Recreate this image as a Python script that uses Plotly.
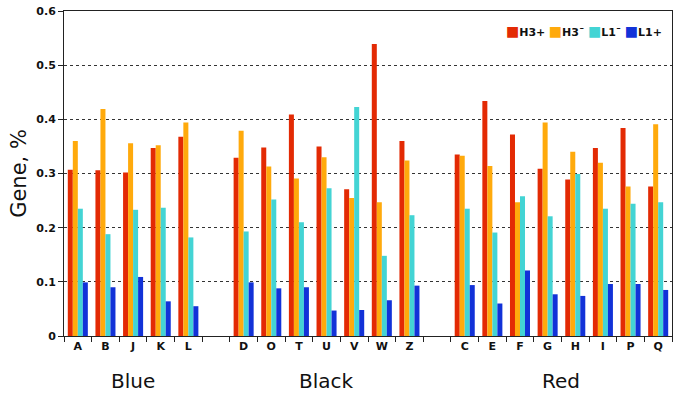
import plotly.graph_objects as go

categories = ["A", "B", "J", "K", "L", " ",
              "D", "O", "T", "U", "V", "W", "Z", "  ",
              "C", "E", "F", "G", "H", "I", "P", "Q"]

h3_plus = [0.307, 0.306, 0.302, 0.347, 0.368, None,
           0.329, 0.348, 0.409, 0.350, 0.271, 0.539, 0.360, None,
           0.335, 0.434, 0.372, 0.309, 0.289, 0.347, 0.384, 0.276]
h3_minus = [0.360, 0.419, 0.356, 0.352, 0.394, None,
            0.379, 0.313, 0.291, 0.330, 0.255, 0.247, 0.324, None,
            0.333, 0.314, 0.247, 0.394, 0.340, 0.320, 0.276, 0.391]
l1_minus = [0.235, 0.188, 0.233, 0.237, 0.182, None,
            0.193, 0.252, 0.210, 0.273, 0.423, 0.148, 0.223, None,
            0.235, 0.191, 0.258, 0.221, 0.299, 0.235, 0.244, 0.247]
l1_plus = [0.099, 0.090, 0.109, 0.064, 0.055, None,
           0.099, 0.088, 0.090, 0.047, 0.048, 0.066, 0.093, None,
           0.094, 0.060, 0.121, 0.077, 0.074, 0.096, 0.096, 0.085]

series_names = ["H3+", "H3¯", "L1¯", "L1+"]
series_colors = ["#E32A04", "#FFAA0C", "#43D4D4", "#1232D8"]
series_values = [h3_plus, h3_minus, l1_minus, l1_plus]

groups = [("Blue", "J", 0.0), ("Black", "U", 0.0), ("Red", "G", 0.5)]

fig = go.Figure()
for name, color, vals in zip(series_names, series_colors, series_values):
    fig.add_trace(go.Bar(x=categories, y=vals, name=name,
                         marker=dict(color=color, line=dict(width=0)),
                         showlegend=False))

for label, cat, off in groups:
    fig.add_annotation(x=categories.index(cat) + off, xref="x",
                       y=0, yref="paper", yshift=-45,
                       yanchor="middle", xanchor="center",
                       text=label, showarrow=False,
                       font=dict(family="DejaVu Sans", size=20, color="#111"))

legend_text = "&nbsp;".join(
    f"<span style='color:{c};font-size:14px'>■</span><b>{n}</b>"
    for n, c in zip(series_names, series_colors))
fig.add_annotation(x=1, xref="paper", y=1, yref="paper",
                   xanchor="right", yanchor="top", xshift=-8, yshift=-10,
                   text=legend_text, showarrow=False,
                   font=dict(family="DejaVu Sans", size=11, color="#111"))

fig.update_layout(
    width=685, height=400,
    margin=dict(l=64, r=13, t=11, b=64),
    paper_bgcolor="white", plot_bgcolor="white",
    barmode="group", bargap=0.275, bargroupgap=0,
    font=dict(family="DejaVu Sans", color="#111"),
)
fig.update_xaxes(
    type="category", categoryorder="array", categoryarray=categories,
    tickson="boundaries", ticks="outside", ticklen=5, tickcolor="#222",
    showline=True, linecolor="#222", linewidth=1, mirror=True,
    showgrid=False, automargin=False,
    tickfont=dict(family="DejaVu Sans", size=11, color="#111", weight="bold"),
)
fig.update_yaxes(
    range=[0, 0.6], dtick=0.1, tickformat="~g",
    ticks="outside", ticklen=5, tickcolor="#222",
    showline=True, linecolor="#222", linewidth=1, mirror=True,
    showgrid=True, gridcolor="#333", griddash="3px,3px", gridwidth=1,
    zeroline=False, automargin=False,
    tickfont=dict(family="DejaVu Sans", size=11, color="#111", weight="bold"),
    title=dict(text="Gene, %", font=dict(family="DejaVu Sans", size=21, color="#111"),
               standoff=3),
)

# remove the browser's default 8px body margin so the figure fills the window
fig.write_html("out.html", config={"displayModeBar": False},
               post_script="document.body.style.margin='0';")
